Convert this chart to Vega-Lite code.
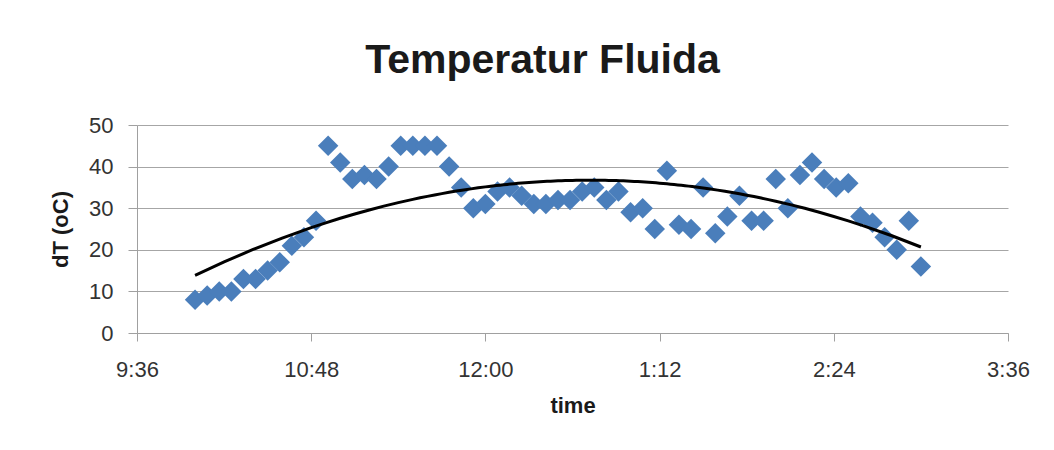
{
  "$schema": "https://vega.github.io/schema/vega-lite/v6.json",
  "width": 871,
  "height": 208,
  "autosize": {"type": "none"},
  "padding": {"left": 137, "top": 125, "right": 46, "bottom": 117},
  "background": "white",
  "title": {
    "text": "Temperatur Fluida",
    "font": "Liberation Sans",
    "fontSize": 41,
    "fontWeight": "bold",
    "color": "#1a1a1a",
    "anchor": "middle",
    "frame": "group",
    "baseline": "alphabetic",
    "offset": 0,
    "dx": -30
  },
  "data": {
    "values": [
      {"t": 600, "dT": 8}, {"t": 605, "dT": 9}, {"t": 610, "dT": 10}, {"t": 615, "dT": 10},
      {"t": 620, "dT": 13}, {"t": 625, "dT": 13}, {"t": 630, "dT": 15}, {"t": 635, "dT": 17},
      {"t": 640, "dT": 21}, {"t": 645, "dT": 23}, {"t": 650, "dT": 27}, {"t": 655, "dT": 45},
      {"t": 660, "dT": 41}, {"t": 665, "dT": 37}, {"t": 670, "dT": 38}, {"t": 675, "dT": 37},
      {"t": 680, "dT": 40}, {"t": 685, "dT": 45}, {"t": 690, "dT": 45}, {"t": 695, "dT": 45},
      {"t": 700, "dT": 45}, {"t": 705, "dT": 40}, {"t": 710, "dT": 35}, {"t": 715, "dT": 30},
      {"t": 720, "dT": 31}, {"t": 725, "dT": 34}, {"t": 730, "dT": 35}, {"t": 735, "dT": 33},
      {"t": 740, "dT": 31}, {"t": 745, "dT": 31}, {"t": 750, "dT": 32}, {"t": 755, "dT": 32},
      {"t": 760, "dT": 34}, {"t": 765, "dT": 35}, {"t": 770, "dT": 32}, {"t": 775, "dT": 34},
      {"t": 780, "dT": 29}, {"t": 785, "dT": 30}, {"t": 790, "dT": 25}, {"t": 795, "dT": 39},
      {"t": 800, "dT": 26}, {"t": 805, "dT": 25}, {"t": 810, "dT": 35}, {"t": 815, "dT": 24},
      {"t": 820, "dT": 28}, {"t": 825, "dT": 33}, {"t": 830, "dT": 27}, {"t": 835, "dT": 27},
      {"t": 840, "dT": 37}, {"t": 845, "dT": 30}, {"t": 850, "dT": 38}, {"t": 855, "dT": 41},
      {"t": 860, "dT": 37}, {"t": 865, "dT": 35}, {"t": 870, "dT": 36}, {"t": 875, "dT": 28},
      {"t": 880, "dT": 26.5}, {"t": 885, "dT": 23}, {"t": 890, "dT": 20}, {"t": 895, "dT": 27},
      {"t": 900, "dT": 16}
    ]
  },
  "encoding": {
    "x": {
      "field": "t",
      "type": "quantitative",
      "scale": {"domain": [576, 936], "nice": false, "zero": false},
      "axis": {
        "title": "time",
        "values": [576, 648, 720, 792, 864, 936],
        "labelExpr": "(((floor(datum.value/60)+11)%12)+1) + ':' + pad(datum.value%60, 2, '0', 'left')",
        "grid": false,
        "domainColor": "#a0a0a0",
        "tickColor": "#a0a0a0",
        "tickSize": 8,
        "labelPadding": 18,
        "labelFont": "Liberation Sans",
        "labelFontSize": 22,
        "labelColor": "#333333",
        "labelFlush": false,
        "titleFont": "Liberation Sans",
        "titleFontSize": 22,
        "titleFontWeight": "bold",
        "titleColor": "#1a1a1a",
        "titlePadding": 15
      }
    },
    "y": {
      "field": "dT",
      "type": "quantitative",
      "scale": {"domain": [0, 50], "nice": false},
      "axis": {
        "title": "dT (oC)",
        "values": [0, 10, 20, 30, 40, 50],
        "grid": true,
        "gridColor": "#a6a6a6",
        "domainColor": "#a0a0a0",
        "tickColor": "#a0a0a0",
        "tickSize": 9,
        "labelPadding": 15,
        "labelFont": "Liberation Sans",
        "labelFontSize": 22,
        "labelColor": "#333333",
        "titleFont": "Liberation Sans",
        "titleFontSize": 22,
        "titleFontWeight": "bold",
        "titleColor": "#1a1a1a",
        "titlePadding": 16
      }
    }
  },
  "layer": [
    {
      "mark": {"type": "point", "shape": "diamond", "filled": true, "size": 420, "color": "#4A7EBB", "opacity": 1}
    },
    {
      "transform": [
        {"regression": "dT", "on": "t", "method": "poly", "order": 2, "extent": [600, 900]}
      ],
      "mark": {"type": "line", "color": "#000000", "strokeWidth": 3}
    }
  ],
  "config": {"view": {"stroke": null}}
}
